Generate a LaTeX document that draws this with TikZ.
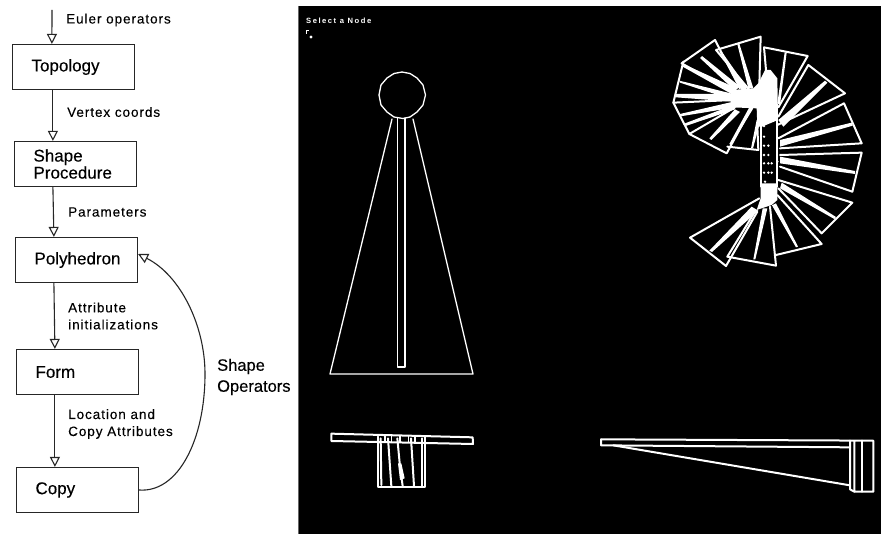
\documentclass[tikz,border=0pt]{standalone}
\usepackage{fontspec}
\setmainfont{Liberation Sans}
\usetikzlibrary{arrows.meta,calc}
\tikzset{
  x=1pt,y=-1pt,
  boxnode/.style={draw=black!85,line width=1.2pt,minimum width=122pt,minimum height=45pt,inner sep=0pt,text width=122pt,align=left,font=\fontsize{17}{17}\selectfont\addfontfeatures{FakeBold=0.3}},
  flow/.style={draw=black!85,line width=1.1pt,-{Triangle[open,fill=white,length=10pt,width=10pt]}},
  lab/.style={anchor=west,inner sep=0pt,align=left,font=\fontsize{13.5}{17}\selectfont\addfontfeatures{LetterSpace=7,FakeBold=0.2}},
  side/.style={anchor=west,inner sep=0pt,align=left,font=\fontsize{16.5}{21}\selectfont\addfontfeatures{FakeBold=0.2}},
  wire/.style={draw=white,line width=1.3pt,line join=round,line cap=round},
  tread/.style={draw=white,line width=2pt,line join=round,line cap=round},
  wedge/.style={fill=white,draw=white,line width=.5pt,line join=round}
}
\begin{document}
\begin{tikzpicture}
\useasboundingbox (0,0) rectangle (881,534);
\fill[white] (0,0) rectangle (881,534);
\fill[black] (299,6) rectangle (881,534);
\draw[black!60,line width=.6pt] (298.5,6) -- (298.5,534);
% flow chart
\coordinate (entry) at (52,10);
\node[boxnode] (topo) at (73.5,67) {\hspace{19pt}Topology};
\node[boxnode] (shapeproc) at (75.5,164) {\hspace{19pt}Shape\\\hspace{19pt}Procedure};
\node[boxnode] (poly) at (76.5,260) {\hspace{19pt}Polyhedron};
\node[boxnode] (form) at (77.5,372) {\hspace{19pt}Form};
\node[boxnode] (copy) at (77.5,490) {\hspace{19pt}Copy};
\draw[flow] (entry) -- ([xshift=40pt]topo.north west);
\draw[flow] ([xshift=41pt]topo.south west) -- ([xshift=39pt]shapeproc.north west);
\draw[flow] ([xshift=39pt]shapeproc.south west) -- ([xshift=39pt]poly.north west);
\draw[flow] ([xshift=39pt]poly.south west) -- ([xshift=39pt]form.north west);
\draw[flow] ([xshift=39pt]form.south west) -- ([xshift=39pt]copy.north west);
\draw[flow] (copy.east) .. controls (178,493) and (205,440) .. (205,374) .. controls (205,325) and (180,275) .. ([yshift=6pt]poly.east);
\node[lab] (l1) at (66,20) {Euler operators};
\node[lab] (l2) at (67,112) {Vertex coords};
\node[lab] (l3) at (68,212) {Parameters};
\node[lab] (l4) at (68,316) {Attribute\\initializations};
\node[lab] (l5) at (68,424) {Location and\\Copy Attributes};
\node[side] (l6) at (217,377) {Shape\\Operators};
% screen text
\node[anchor=west,inner sep=0pt,text=white,font=\fontsize{7.6}{8}\bfseries\selectfont\addfontfeatures{LetterSpace=20}] (sel) at (306,21) {Select a Node};
\draw[white,line width=1.3pt] (306.5,34) -- (306.5,30.5) -- (309,30.5);
\fill[white] (311,37) circle (1.7pt);
% front view
\draw[wire] (402,72) -- (410,73.5) -- (417,78) -- (423,85) -- (425.5,95) -- (423,105) -- (417,112) -- (410,117) -- (403,118.5) -- (394,117) -- (387,112) -- (381,105) -- (379,95) -- (381,85) -- (387,78) -- (394,73.5) -- cycle;
\draw[wire] (392,119) -- (330,374) -- (473,374) -- (413,119);
\draw[wire] (397.5,118) -- (397.5,367) -- (405,367) -- (405,118);
% plan view
\begin{scope}[shift={(310,410)},scale=1/3]
\draw[tread] (64,71) -- (488,82) -- (489,102) -- (64,93) -- cycle;
\draw[tread] (205,80) -- (205,232) -- (345,232) -- (345,80);
\draw[tread] (212,85) -- (214,225);
\draw[tread] (234,85) -- (244,228);
\draw[tread] (262,85) -- (270,170) -- (278,228);
\fill[white] (264,160) -- (274,160) -- (284,205) -- (270,210) -- cycle;
\draw[tread] (303,85) -- (312,228);
\draw[tread] (335,85) -- (335,228);
\foreach \q in {225,245,270,295,315} \draw[white,line width=1.2pt] (\q,78) -- (\q,96);
\end{scope}
% side view
\begin{scope}[shift={(590,420)},scale=1/3]
\draw[tread] (33,58) -- (850,62) -- (850,215) -- (793,215) -- (793,62);
\draw[tread] (33,58) -- (33,76) -- (780,82);
\draw[tread] (70,76) -- (780,196);
\draw[tread] (780,62) -- (780,208) -- (793,215);
\draw[tread] (815,62) -- (815,215);
\end{scope}
% spiral
\begin{scope}[shift={(640,20)},scale=1/3]
\fill[white] (375,150) -- (392,150) -- (412,175) -- (414,300) -- (366,320) -- (352,320) -- (350,265) -- (275,262) -- (270,235) -- (275,210) -- (340,205) -- (355,190) -- cycle;
\fill[white] (362,490) -- (412,490) -- (412,540) -- (395,555) -- (350,570) -- (362,535) -- cycle;
\draw[tread] (362,300) -- (362,500);
\draw[tread] (412,300) -- (412,500);
\foreach \a/\b in {372/318,372/350,372/377,385/377,372/405,385/405,372/430,385/430,395/430,372/458,385/458,395/458,375/485,412/425} \fill[white] (\a,\b) circle (4);
% lower treads
\draw[tread] (358,535) -- (150,653) -- (258,738) -- (352,575);
\fill[white] (208,692) -- (335,560) -- (355,572) -- (216,696) -- cycle;
\draw[tread] (345,575) -- (262,710) -- (408,737) -- (390,560);
\fill[white] (340,718) -- (346,718) -- (382,565) -- (368,565) -- cycle;
\draw[tread] (408,705) -- (545,672) -- (412,525);
\fill[white] (468,682) -- (474,680) -- (408,550) -- (396,556) -- cycle;
\draw[tread] (415,505) -- (545,640) -- (637,548) -- (415,480);
\fill[white] (583,597) -- (588,591) -- (425,488) -- (420,505) -- cycle;
\draw[tread] (637,515) -- (665,398) -- (420,405);
\draw[tread] (637,515) -- (420,440);
\fill[white] (420,410) -- (645,453) -- (645,462) -- (420,430) -- cycle;
\draw[tread] (420,385) -- (665,370) -- (612,250) -- (415,355);
\fill[white] (420,360) -- (635,308) -- (638,317) -- (420,380) -- cycle;
\draw[tread] (412,315) -- (615,220) -- (505,135) -- (415,290);
\fill[white] (415,300) -- (555,182) -- (562,188) -- (430,320) -- cycle;
\draw[tread] (415,262) -- (503,108) -- (372,82) -- (378,150);
\fill[white] (412,250) -- (434,97) -- (440,98) -- (420,255) -- cycle;
% upper left treads
\draw[tread] (358,195) -- (362,50) -- (228,90) -- (330,212);
\fill[white] (238,95) -- (243,92) -- (322,205) -- (305,210) -- cycle;
\fill[white] (292,73) -- (298,71) -- (340,205) -- (325,205) -- cycle;
\draw[tread] (300,205) -- (225,60) -- (125,130) -- (278,215);
\fill[white] (180,114) -- (186,108) -- (300,200) -- (285,212) -- cycle;
\fill[white] (128,140) -- (132,133) -- (290,205) -- (280,225) -- cycle;
\draw[tread] (130,125) -- (100,248) -- (280,240);
\fill[white] (118,182) -- (120,188) -- (280,240) -- (280,222) -- cycle;
\fill[white] (108,222) -- (108,232) -- (280,245) -- (280,222) -- cycle;
\draw[tread] (100,248) -- (148,342) -- (285,262);
\fill[white] (120,282) -- (122,289) -- (285,262) -- (280,245) -- cycle;
\fill[white] (130,312) -- (134,319) -- (285,268) -- (280,255) -- cycle;
\draw[tread] (148,342) -- (260,400) -- (335,262);
\fill[white] (208,355) -- (285,268) -- (300,276) -- (214,360) -- cycle;
\draw[tread] (262,380) -- (355,390) -- (352,320);
\fill[white] (268,372) -- (273,375) -- (340,265) -- (328,262) -- cycle;
\fill[white] (333,385) -- (339,385) -- (362,300) -- (350,300) -- cycle;
\end{scope}
\end{tikzpicture}
\end{document}
